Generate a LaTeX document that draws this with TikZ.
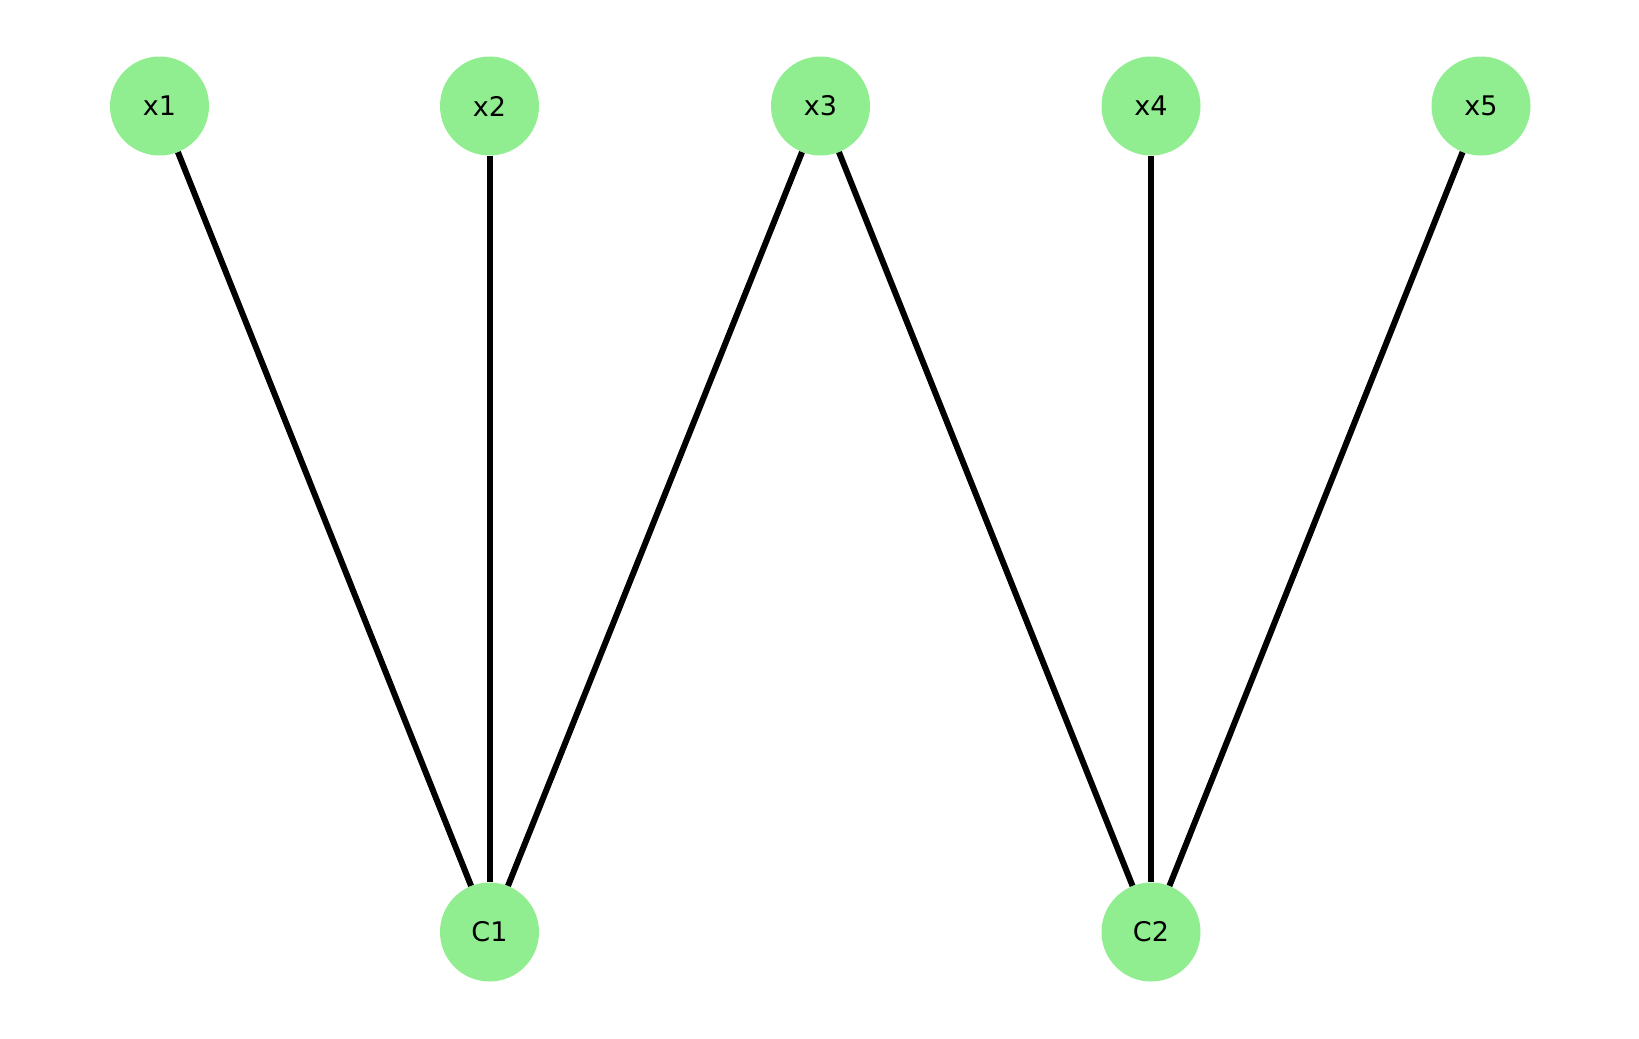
\documentclass[tikz,border=0pt]{standalone}
\usepackage{fontspec}
\setmainfont{DejaVu Sans}
\usepackage{xcolor}
\definecolor{nodegreen}{HTML}{90EE90}
\tikzset{
  vtx/.style={circle, fill=nodegreen, minimum size=99pt, inner sep=0pt,
    font=\fontsize{27}{32}\selectfont},
  edge/.style={draw=black, line width=6pt},
  every picture/.style={line cap=butt, line join=round}
}
\begin{document}
\begin{tikzpicture}[x=1pt,y=-1pt]
  \useasboundingbox (0,0) rectangle (1639,1039);
  \node[vtx] (x1) at (159.5,106) {x1};
  \node[vtx] (x2) at (489.5,106) {x2};
  \node[vtx] (x3) at (820.5,106) {x3};
  \node[vtx] (x4) at (1151,106) {x4};
  \node[vtx] (x5) at (1481,106) {x5};
  \node[vtx] (C1) at (489.5,932) {C1};
  \node[vtx] (C2) at (1151,932) {C2};

  \draw[edge] (x1) -- (C1);
  \draw[edge] (x2) -- (C1);
  \draw[edge] (x3) -- (C1);
  \draw[edge] (x3) -- (C2);
  \draw[edge] (x4) -- (C2);
  \draw[edge] (x5) -- (C2);
\end{tikzpicture}
\end{document}
